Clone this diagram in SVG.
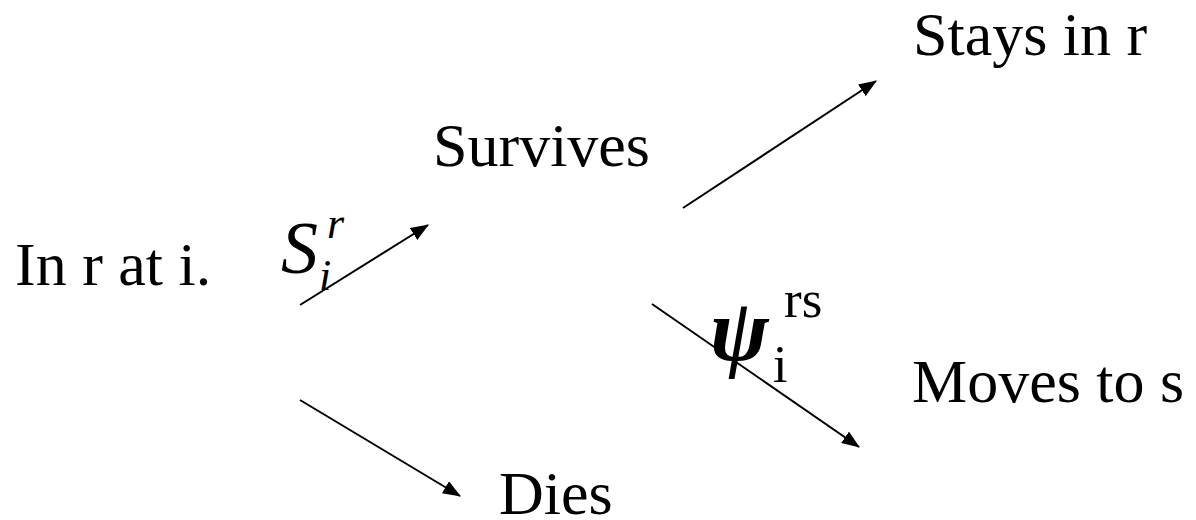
<svg xmlns="http://www.w3.org/2000/svg" width="1196" height="520" viewBox="0 0 1196 520">
<style>
.t{font-family:"Liberation Serif","Times New Roman",serif;font-size:62px;fill:#000}
.m{font-family:"Liberation Serif","Times New Roman",serif;font-style:italic;fill:#000}
.u{font-family:"Liberation Serif","Times New Roman",serif;fill:#000}
.c{stroke:#000;stroke-width:2;fill:none;marker-end:url(#ah)}
</style>
<defs>
<marker id="ah" markerUnits="userSpaceOnUse" markerWidth="18" markerHeight="14" refX="17" refY="7" orient="auto" viewBox="0 0 18 14">
<path d="M0,0 L18,7 L0,14 z" fill="#000"/>
</marker>
</defs>
<rect width="1196" height="520" fill="#fff"/>
<g id="connectors">
<line class="c" x1="300" y1="305" x2="428" y2="225"/>
<line class="c" x1="683" y1="208" x2="876" y2="81"/>
<line class="c" x1="652" y1="304" x2="859" y2="447"/>
<line class="c" x1="300" y1="400" x2="460" y2="496"/>
</g>
<g id="start"><text class="t" x="15" y="285">In r at i.</text></g>
<g id="survives"><text class="t" x="433" y="166">Survives</text></g>
<g id="stays"><text class="t" x="913" y="55">Stays in r</text></g>
<g id="moves"><text class="t" x="912" y="402">Moves to s</text></g>
<g id="dies"><text class="t" x="499" y="514">Dies</text></g>
<g id="label-s"><text class="m" x="281" y="273" font-size="74">S</text><text class="m" x="327" y="238" font-size="44">r</text><text class="m" x="319" y="290" font-size="44">i</text></g>
<g id="label-psi"><text class="m" x="710" y="360" font-size="88" font-weight="bold">ψ</text><text class="u" x="784" y="317" font-size="53">rs</text><text class="u" x="773" y="382" font-size="52">i</text></g>
</svg>
